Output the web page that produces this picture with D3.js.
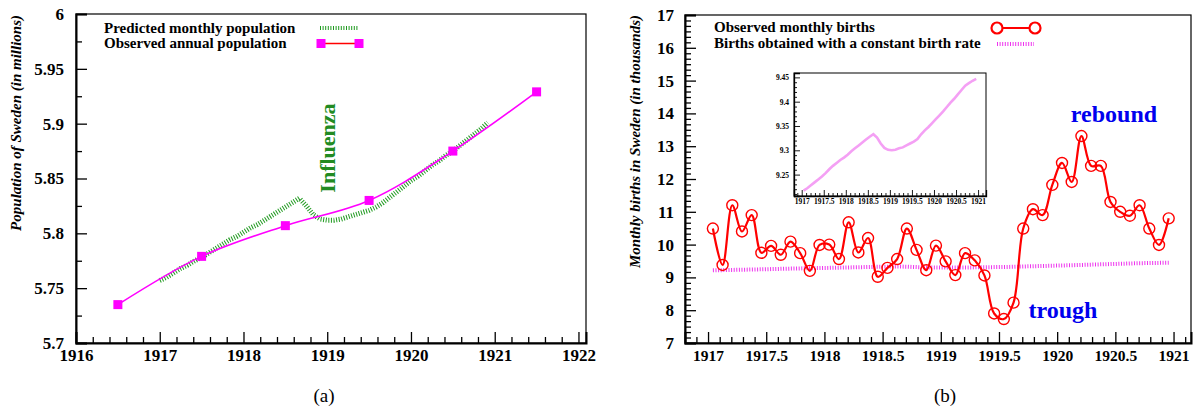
<!DOCTYPE html>
<html>
<head>
<meta charset="utf-8">
<script src="https://cdn.jsdelivr.net/npm/d3@7"></script>
<style>
  body { margin: 0; background: #fff; }
  svg text { font-family: "Liberation Serif", "Times New Roman", serif; }
</style>
</head>
<body>
<svg id="fig" width="1196" height="409"></svg>
<script>
// ---- data: panel (a) ----
var annualYears = [1916.5, 1917.5, 1918.5, 1919.5, 1920.5, 1921.5];
var annualPop   = [5.735, 5.779, 5.807, 5.830, 5.875, 5.929];
// predicted monthly population, Jan 1917 .. Dec 1920
var monthlyPop = [5.757, 5.760, 5.764, 5.768, 5.771, 5.775, 5.778, 5.782, 5.786, 5.790, 5.794, 5.797,
                  5.801, 5.805, 5.808, 5.812, 5.816, 5.820, 5.824, 5.828, 5.832, 5.825, 5.817, 5.813,
                  5.812, 5.812, 5.813, 5.815, 5.817, 5.819, 5.821, 5.824, 5.828, 5.833, 5.838, 5.843,
                  5.848, 5.852, 5.857, 5.862, 5.866, 5.871, 5.875, 5.880, 5.885, 5.890, 5.895, 5.901];

// ---- data: panel (b) ----
// observed monthly births (thousands), mid-month Jan 1917 .. Dec 1920
var births = [10.49, 9.38, 11.20, 10.40, 10.90, 9.75, 9.96, 9.69, 10.09, 9.74, 9.20, 9.99,
              10.00, 9.56, 10.68, 9.76, 10.20, 9.02, 9.29, 9.56, 10.49, 9.84, 9.22, 9.97,
              9.49, 9.07, 9.74, 9.52, 9.06, 7.90, 7.73, 8.23, 10.49, 11.08, 10.90, 11.82,
              12.49, 11.91, 13.31, 12.40, 12.40, 11.30, 11.00, 10.88, 11.20, 10.49, 9.99, 10.80];
// births with a constant birth rate
var constBirths = [9.217, 9.222, 9.228, 9.234, 9.240, 9.246, 9.253, 9.261, 9.268, 9.274, 9.280, 9.285,
                   9.291, 9.298, 9.304, 9.310, 9.316, 9.322, 9.328, 9.333, 9.326, 9.314, 9.305, 9.301,
                   9.300, 9.301, 9.304, 9.306, 9.310, 9.314, 9.318, 9.323, 9.333, 9.341, 9.348, 9.356,
                   9.364, 9.372, 9.380, 9.389, 9.398, 9.406, 9.415, 9.424, 9.433, 9.438, 9.443, 9.447];

var popTicksX = [1916, 1917, 1918, 1919, 1920, 1921, 1922];
var popTicksY = [5.7, 5.75, 5.8, 5.85, 5.9, 5.95, 6];
var birthTicksX = [1917, 1917.5, 1918, 1918.5, 1919, 1919.5, 1920, 1920.5, 1921];
var birthTicksY = [7, 8, 9, 10, 11, 12, 13, 14, 15, 16, 17];
var insetTicksY = [9.25, 9.3, 9.35, 9.4, 9.45];

var svg = d3.select("#fig");

var monthStart = function(i) { return 1917 + i / 12; };
var monthMid = function(i) { return 1917 + (i + 0.5) / 12; };

// helper: draw a framed plot with inward ticks
function frame(g, x, y, o) {
  var x0 = x.range()[0], x1 = x.range()[1], y0 = y.range()[0], y1 = y.range()[1];
  g.append("rect").attr("x", x0).attr("y", y1).attr("width", x1 - x0).attr("height", y0 - y1)
    .attr("fill", "none").attr("stroke", "#000").attr("stroke-width", o.border);

  var minX = g.append("g").attr("transform", "translate(0," + y0 + ")")
    .call(d3.axisBottom(x).tickValues(o.minorX).tickSize(-o.minor).tickFormat(""));
  var majX = g.append("g").attr("transform", "translate(0," + y0 + ")")
    .call(d3.axisBottom(x).tickValues(o.ticksX).tickSize(-o.major).tickPadding(o.padX).tickFormat(d3.format("")));
  var minY = g.append("g").attr("transform", "translate(" + x0 + ",0)")
    .call(d3.axisLeft(y).tickValues(o.minorY).tickSize(-o.minor).tickFormat(""));
  var majY = g.append("g").attr("transform", "translate(" + x0 + ",0)")
    .call(d3.axisLeft(y).tickValues(o.ticksY).tickSize(-o.major).tickPadding(o.padY).tickFormat(d3.format("")));

  [minX, minY].forEach(function(a) { a.select(".domain").remove(); });
  [majX, majY].forEach(function(a) {
    a.select(".domain").attr("stroke-width", o.axis);
    a.selectAll(".tick line").attr("stroke-width", o.tickW);
  });
  [minX, minY].forEach(function(a) { a.selectAll(".tick line").attr("stroke-width", o.tickW); });
  majX.selectAll("text").style("font-size", o.fontX + "px").style("font-weight", "bold").attr("fill", "#000");
  majY.selectAll("text").style("font-size", o.fontY + "px").style("font-weight", "bold").attr("fill", "#000");
}

function minorTicks(lo, hi, step, majors) {
  var out = [];
  for (var v = lo; v <= hi + 1e-9; v += step) {
    var r = Math.round(v * 1000) / 1000;
    if (!majors.some(function(m) { return Math.abs(m - r) < 1e-6; })) out.push(r);
  }
  return out;
}

// ================= panel (a) =================
var xA = d3.scaleLinear().domain([1916, 1922.09]).range([76, 586]);
var yA = d3.scaleLinear().domain([5.7, 6]).range([343, 14]);
var gA = svg.append("g");

frame(gA, xA, yA, {
  ticksX: popTicksX, ticksY: popTicksY,
  minorX: minorTicks(1916, 1922, 0.2, popTicksX),
  minorY: minorTicks(5.7, 6, 0.025, popTicksY),
  major: 11, minor: 6, padX: 6, padY: 12, fontX: 17, fontY: 17,
  border: 1.2, axis: 2, tickW: 1.3
});

// predicted monthly (green dotted)
gA.append("path")
  .datum(monthlyPop)
  .attr("fill", "none")
  .attr("stroke", "#1f9a1f")
  .attr("stroke-width", 5)
  .attr("stroke-dasharray", "1,1.6")
  .attr("d", d3.line().x(function(d, i) { return xA(monthStart(i)); }).y(function(d) { return yA(d); }));

// observed annual (magenta)
var annual = annualYears.map(function(t, i) { return {t: t, v: annualPop[i]}; });
gA.append("path")
  .datum(annual)
  .attr("fill", "none")
  .attr("stroke", "#ff00ff")
  .attr("stroke-width", 1.6)
  .attr("d", d3.line().curve(d3.curveCatmullRom.alpha(0.5))
    .x(function(d) { return xA(d.t); }).y(function(d) { return yA(d.v); }));
gA.selectAll("rect.sq")
  .data(annual)
  .enter().append("rect")
  .attr("class", "sq")
  .attr("x", function(d) { return xA(d.t) - 4.5; })
  .attr("y", function(d) { return yA(d.v) - 4.5; })
  .attr("width", 9).attr("height", 9)
  .attr("fill", "#ff00ff");

// legend (a)
gA.append("text").attr("x", 104).attr("y", 33).style("font-size", "15px").style("font-weight", "bold")
  .text("Predicted monthly population");
gA.append("text").attr("x", 104).attr("y", 48).style("font-size", "15px").style("font-weight", "bold")
  .text("Observed annual population");
gA.append("line").attr("x1", 320).attr("x2", 358).attr("y1", 28).attr("y2", 28)
  .attr("stroke", "#1f9a1f").attr("stroke-width", 4).attr("stroke-dasharray", "1,1.6");
gA.append("line").attr("x1", 321).attr("x2", 359).attr("y1", 43.5).attr("y2", 43.5)
  .attr("stroke", "#ff0000").attr("stroke-width", 1.5);
[321, 359].forEach(function(cx) {
  gA.append("rect").attr("x", cx - 4.5).attr("y", 39).attr("width", 9).attr("height", 9).attr("fill", "#ff00ff");
});

gA.append("text")
  .attr("transform", "translate(335,148) rotate(-90)")
  .attr("text-anchor", "middle")
  .style("font-size", "22px").style("font-weight", "bold")
  .attr("fill", "#228b22")
  .text("Influenza");

gA.append("text")
  .attr("transform", "translate(21,15) rotate(-90)")
  .attr("text-anchor", "end")
  .style("font-size", "15px").style("font-weight", "bold").style("font-style", "italic")
  .text("Population of Sweden (in millions)");

svg.append("text").attr("x", 324).attr("y", 402).attr("text-anchor", "middle")
  .style("font-size", "19px").text("(a)");

// ================= panel (b) =================
var xB = d3.scaleLinear().domain([1916.802, 1921.15]).range([685, 1191]);
var yB = d3.scaleLinear().domain([7, 17]).range([343, 15]);
var gB = svg.append("g");

frame(gB, xB, yB, {
  ticksX: birthTicksX, ticksY: birthTicksY,
  minorX: minorTicks(1916.9, 1921.1, 0.1, birthTicksX),
  minorY: minorTicks(7, 17, 1 / 6, birthTicksY),
  major: 11, minor: 6, padX: 7, padY: 11, fontX: 15.5, fontY: 17,
  border: 1.2, axis: 2, tickW: 1.3
});

// constant birth rate (magenta dotted)
gB.append("path")
  .datum(constBirths)
  .attr("fill", "none")
  .attr("stroke", "#ee33ee")
  .attr("stroke-width", 4)
  .attr("stroke-dasharray", "1,1.6")
  .attr("d", d3.line().x(function(d, i) { return xB(monthMid(i)); }).y(function(d) { return yB(d); }));

// observed births (red, circles)
gB.append("path")
  .datum(births)
  .attr("fill", "none")
  .attr("stroke", "#ff0000")
  .attr("stroke-width", 2.2)
  .attr("d", d3.line().curve(d3.curveCatmullRom.alpha(0.5))
    .x(function(d, i) { return xB(monthMid(i)); }).y(function(d) { return yB(d); }));
gB.selectAll("circle.obs")
  .data(births)
  .enter().append("circle")
  .attr("class", "obs")
  .attr("cx", function(d, i) { return xB(monthMid(i)); })
  .attr("cy", function(d) { return yB(d); })
  .attr("r", 5.5)
  .attr("fill", "none")
  .attr("stroke", "#ff0000")
  .attr("stroke-width", 1.4);

// legend (b)
gB.append("text").attr("x", 714).attr("y", 32).style("font-size", "15px").style("font-weight", "bold")
  .text("Observed monthly births");
gB.append("text").attr("x", 714).attr("y", 48).style("font-size", "15px").style("font-weight", "bold")
  .text("Births obtained with a constant birth rate");
gB.append("line").attr("x1", 997).attr("x2", 1035).attr("y1", 28).attr("y2", 28)
  .attr("stroke", "#ff0000").attr("stroke-width", 2.2);
[997, 1035].forEach(function(cx) {
  gB.append("circle").attr("cx", cx).attr("cy", 28).attr("r", 5.5)
    .attr("fill", "#fff").attr("stroke", "#ff0000").attr("stroke-width", 2.2);
});
gB.append("line").attr("x1", 997).attr("x2", 1034).attr("y1", 44).attr("y2", 44)
  .attr("stroke", "#ee33ee").attr("stroke-width", 4).attr("stroke-dasharray", "1,1.6");

gB.append("text").attr("x", 1114).attr("y", 122).attr("text-anchor", "middle")
  .style("font-size", "24px").style("font-weight", "bold").attr("fill", "#0000ee").text("rebound");
gB.append("text").attr("x", 1063).attr("y", 318).attr("text-anchor", "middle")
  .style("font-size", "24px").style("font-weight", "bold").attr("fill", "#0000ee").text("trough");

gB.append("text")
  .attr("transform", "translate(640,15) rotate(-90)")
  .attr("text-anchor", "end")
  .style("font-size", "15px").style("font-weight", "bold").style("font-style", "italic")
  .text("Monthly births in Sweden (in thousands)");

svg.append("text").attr("x", 945).attr("y", 402).attr("text-anchor", "middle")
  .style("font-size", "19px").text("(b)");

// ---- inset ----
var xI = d3.scaleLinear().domain([1916.825, 1921.18]).range([794, 986]);
var yI = d3.scaleLinear().domain([9.206, 9.459]).range([196, 73]);
var gI = svg.append("g");
gI.append("rect").attr("x", 794).attr("y", 73).attr("width", 192).attr("height", 123).attr("fill", "#fff");
frame(gI, xI, yI, {
  ticksX: birthTicksX, ticksY: insetTicksY,
  minorX: minorTicks(1916.9, 1921.1, 0.1, birthTicksX),
  minorY: minorTicks(9.21, 9.45, 0.01, insetTicksY),
  major: 6, minor: 3, padX: 3, padY: 5, fontX: 7.5, fontY: 7.5,
  border: 1, axis: 1.3, tickW: 0.9
});
gI.append("path")
  .datum(constBirths)
  .attr("fill", "none")
  .attr("stroke", "#f4a0f4")
  .attr("stroke-width", 2.6)
  .attr("d", d3.line().x(function(d, i) { return xI(monthMid(i)); }).y(function(d) { return yI(d); }));
</script>
</body>
</html>
